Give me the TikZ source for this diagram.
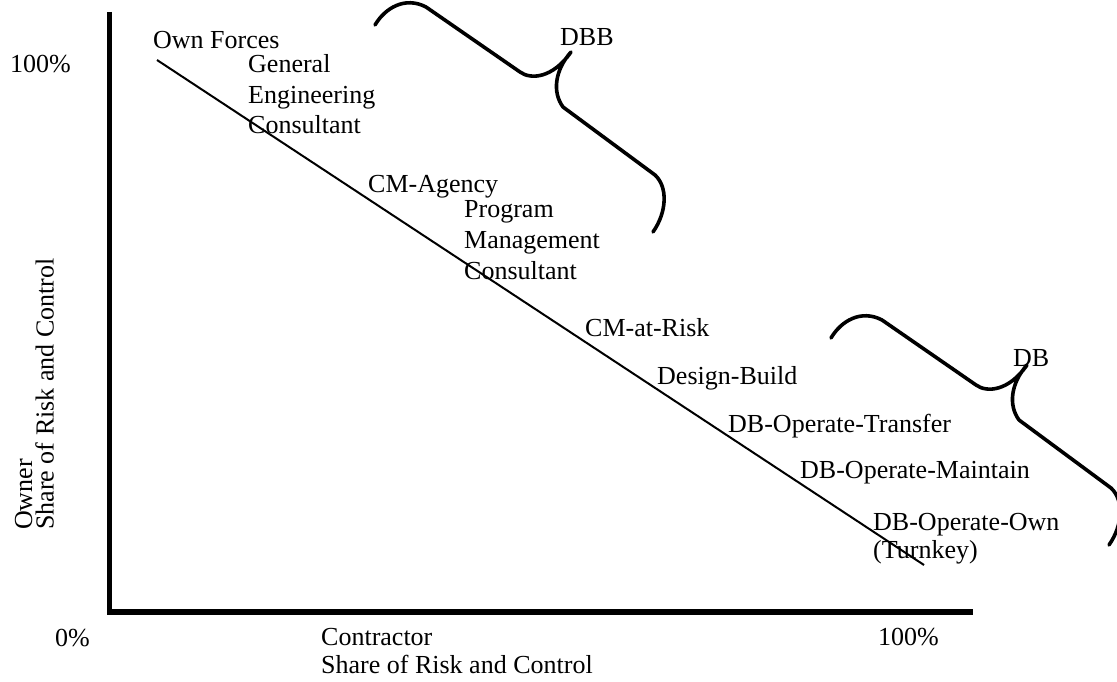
\documentclass[tikz,border=0pt]{standalone}
\usepackage{fontspec}
\setmainfont{Liberation Serif}
\begin{document}
\begin{tikzpicture}[x=1pt,y=-1pt,
  lbl/.style={anchor=base west,inner sep=0pt,align=left,
    font=\fontsize{26}{30.5}\selectfont},
  tight/.style={font=\fontsize{26}{28}\selectfont},
  axisline/.style={line width=5.5pt,line join=miter},
  trendline/.style={line width=2pt},
  bracestroke/.style={line width=3.6pt,line cap=round,line join=round},
  brace/.pic={
    \draw[bracestroke] (-196,-27) .. controls (-186,-44) and (-166,-56) .. (-145,-45)
      -- (-51,20) .. controls (-40,28) and (-18,26) .. (0,0)
      .. controls (-16,18) and (-19,40) .. (-8,55)
      -- (84,123) .. controls (97,135) and (96,160) .. (82,180);
  }]
\useasboundingbox (0,0) rectangle (1117,682);

% axes
\coordinate (ytop) at (109.5,12);
\coordinate (origin) at (109.5,612);
\coordinate (xend) at (973,612);
\draw[axisline] (ytop) -- (origin) -- (xend);

% risk-sharing line
\coordinate (lineStart) at (157,60);
\coordinate (lineEnd) at (924,565);
\draw[trendline] (lineStart) -- (lineEnd);

% axis labels (multi-line nodes sit on the baseline of their last line)
\node[lbl] (yhigh) at (10,73) {100\%};
\node[lbl] (xlow) at (55,646) {0\%};
\node[lbl] (xhigh) at (878,645) {100\%};
\node[lbl,tight] (xtitle) at (321,673) {Contractor\\Share of Risk and Control};
\node[lbl,anchor=base west,rotate=90,font=\fontsize{26}{21.5}\selectfont]
  (ytitle) at (53.5,530) {Owner\\Share of Risk and Control};

% delivery methods
\node[lbl] (own) at (153,49) {Own Forces};
\node[lbl] (gec) at (248,134) {General\\Engineering\\Consultant};
\node[lbl] (cma) at (368,193) {CM-Agency};
\node[lbl,font=\fontsize{26}{31}\selectfont] (pmc) at (464,279) {Program\\Management\\Consultant};
\node[lbl] (cmr) at (585,336) {CM-at-Risk};
\node[lbl] (dbd) at (657,384) {Design-Build};
\node[lbl] (dbot) at (728,432) {DB-Operate-Transfer};
\node[lbl] (dbom) at (800,478) {DB-Operate-Maintain};
\node[lbl,tight] (dboo) at (873,558) {DB-Operate-Own\\(Turnkey)};

% groupings
\pic at (571,52) {brace};
\node[lbl] (dbb) at (560,46) {DBB};
\pic at (1027,365) {brace};
\node[lbl] (db) at (1013,366) {DB};
\end{tikzpicture}
\end{document}
